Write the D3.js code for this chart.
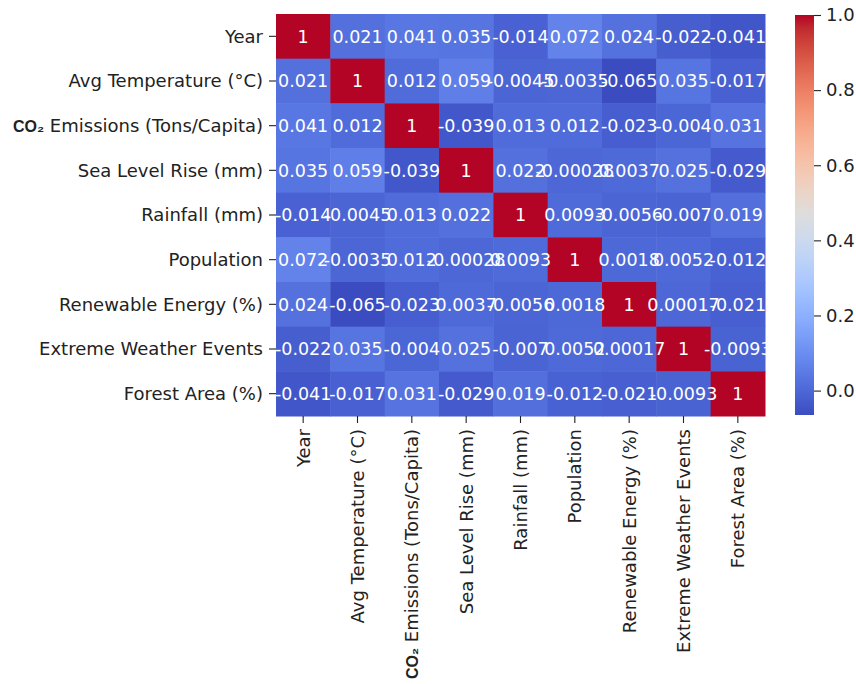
<!DOCTYPE html>
<html lang="en">
<head>
    <meta charset="UTF-8">
    <title>Correlation Heatmap</title>
    <script src="https://cdnjs.cloudflare.com/ajax/libs/d3/7.8.5/d3.min.js"></script>
    <style>
        body { margin: 0; background: #fff; }
        svg { display: block; font-family: "DejaVu Sans", sans-serif; }
    </style>
</head>
<body>
<svg width="856" height="684"></svg>

<script>
    // Variable names (same order on both axes)
    const variables = [
        "Year", "Avg Temperature (°C)", "CO₂ Emissions (Tons/Capita)", "Sea Level Rise (mm)",
        "Rainfall (mm)", "Population", "Renewable Energy (%)", "Extreme Weather Events", "Forest Area (%)"
    ];

    // Correlation matrix, one row per variable
    const corrYear      = [1, 0.021, 0.041, 0.035, -0.014, 0.072, 0.024, -0.022, -0.041];
    const corrTemp      = [0.021, 1, 0.012, 0.059, -0.0045, -0.0035, -0.065, 0.035, -0.017];
    const corrCO2       = [0.041, 0.012, 1, -0.039, 0.013, 0.012, -0.023, -0.004, 0.031];
    const corrSeaLevel  = [0.035, 0.059, -0.039, 1, 0.022, -0.00028, 0.0037, 0.025, -0.029];
    const corrRainfall  = [-0.014, -0.0045, 0.013, 0.022, 1, 0.0093, -0.0056, -0.007, 0.019];
    const corrPop       = [0.072, -0.0035, 0.012, -0.00028, 0.0093, 1, 0.0018, 0.0052, -0.012];
    const corrRenewable = [0.024, -0.065, -0.023, 0.0037, -0.0056, 0.0018, 1, 0.00017, -0.021];
    const corrExtreme   = [-0.022, 0.035, -0.004, 0.025, -0.007, 0.0052, 0.00017, 1, -0.0093];
    const corrForest    = [-0.041, -0.017, 0.031, -0.029, 0.019, -0.012, -0.021, -0.0093, 1];

    const matrix = [corrYear, corrTemp, corrCO2, corrSeaLevel, corrRainfall,
                    corrPop, corrRenewable, corrExtreme, corrForest];

    // Colorbar ticks
    const colorbarTicks = [0.0, 0.2, 0.4, 0.6, 0.8, 1.0];

    // coolwarm colormap stops (Moreland)
    const coolwarm = [
        [59,76,192],[68,90,204],[77,104,215],[87,117,225],[98,130,234],[108,142,241],
        [119,154,247],[130,165,251],[141,176,254],[152,185,255],[163,194,255],[174,201,253],
        [184,208,249],[194,213,244],[204,217,238],[213,219,230],[221,221,221],[229,216,209],
        [236,211,197],[241,204,185],[245,196,173],[247,187,160],[247,177,148],[247,166,135],
        [244,154,123],[241,141,111],[236,127,99],[229,112,88],[222,96,77],[213,80,66],
        [203,62,56],[192,40,47],[180,4,38]
    ].map(c => d3.rgb(c[0], c[1], c[2]).formatHex());

    const cmap = d3.scaleLinear()
        .domain(coolwarm.map((c, i) => i / (coolwarm.length - 1)))
        .range(coolwarm)
        .interpolate(d3.interpolateRgb)
        .clamp(true);

    const cells = [];
    matrix.forEach((row, i) => row.forEach((v, j) => cells.push({ row: i, col: j, value: v })));

    const vmin = d3.min(cells, d => d.value);
    const vmax = d3.max(cells, d => d.value);
    const norm = d3.scaleLinear().domain([vmin, vmax]).range([0, 1]);

    // Layout
    const plotLeft = 276, plotRight = 765, plotTop = 14, plotBottom = 416;
    const svg = d3.select("svg");

    const x = d3.scaleBand().domain(d3.range(variables.length)).range([plotLeft, plotRight]);
    const y = d3.scaleBand().domain(d3.range(variables.length)).range([plotTop, plotBottom]);

    // Python-style ".2g" with a plain hyphen
    const fmt = d3.formatLocale({ decimal: ".", thousands: ",", grouping: [3], currency: ["", ""], minus: "-" }).format(".2~g");

    // Cells
    svg.append("g")
        .selectAll("rect")
        .data(cells)
        .enter()
        .append("rect")
        .attr("x", d => x(d.col))
        .attr("y", d => y(d.row))
        .attr("width", x.bandwidth() + 0.5)
        .attr("height", y.bandwidth() + 0.5)
        .attr("fill", d => cmap(norm(d.value)));

    // Annotations
    svg.append("g")
        .selectAll("text")
        .data(cells)
        .enter()
        .append("text")
        .attr("x", d => x(d.col) + x.bandwidth() / 2)
        .attr("y", d => y(d.row) + y.bandwidth() / 2)
        .attr("dy", "0.36em")
        .attr("text-anchor", "middle")
        .attr("font-size", "17.5px")
        .attr("fill", "#fff")
        .text(d => fmt(d.value));

    // Label writer: renders "CO₂" prefix in a bold sans face like the source
    function writeLabel(sel) {
        sel.each(function (d) {
            const t = d3.select(this);
            const name = variables[d];
            if (name.startsWith("CO₂")) {
                t.append("tspan")
                    .attr("font-family", "'Liberation Sans', Arial, sans-serif")
                    .attr("font-weight", "bold")
                    .attr("font-size", "16px")
                    .text("CO₂");
                t.append("tspan").text(name.slice(3));
            } else {
                t.text(name);
            }
        });
    }

    const tickLen = 7, tickPad = 6;

    // Y axis
    const yAxis = svg.append("g");
    yAxis.selectAll("line")
        .data(d3.range(variables.length))
        .enter()
        .append("line")
        .attr("x1", plotLeft - tickLen)
        .attr("x2", plotLeft)
        .attr("y1", d => y(d) + y.bandwidth() / 2)
        .attr("y2", d => y(d) + y.bandwidth() / 2)
        .attr("stroke", "#222")
        .attr("stroke-width", 1.1);
    yAxis.selectAll("text")
        .data(d3.range(variables.length))
        .enter()
        .append("text")
        .attr("x", plotLeft - tickLen - tickPad)
        .attr("y", d => y(d) + y.bandwidth() / 2)
        .attr("dy", "0.36em")
        .attr("text-anchor", "end")
        .attr("font-size", "18px")
        .attr("fill", "#222")
        .call(writeLabel);

    // X axis (rotated labels)
    const xAxis = svg.append("g");
    xAxis.selectAll("line")
        .data(d3.range(variables.length))
        .enter()
        .append("line")
        .attr("x1", d => x(d) + x.bandwidth() / 2)
        .attr("x2", d => x(d) + x.bandwidth() / 2)
        .attr("y1", plotBottom)
        .attr("y2", plotBottom + tickLen)
        .attr("stroke", "#222")
        .attr("stroke-width", 1.1);
    xAxis.selectAll("text")
        .data(d3.range(variables.length))
        .enter()
        .append("text")
        .attr("transform", d => `translate(${x(d) + x.bandwidth() / 2},${plotBottom + tickLen + tickPad}) rotate(-90)`)
        .attr("dy", "0.36em")
        .attr("text-anchor", "end")
        .attr("font-size", "18px")
        .attr("fill", "#222")
        .call(writeLabel);

    // Colorbar
    const cbLeft = 795, cbWidth = 19;
    const cbScale = d3.scaleLinear().domain([vmin, vmax]).range([plotBottom - 1, plotTop + 1]);

    const grad = svg.append("defs").append("linearGradient")
        .attr("id", "cbGrad")
        .attr("x1", 0).attr("y1", 1).attr("x2", 0).attr("y2", 0);
    grad.selectAll("stop")
        .data(coolwarm)
        .enter()
        .append("stop")
        .attr("offset", (d, i) => i / (coolwarm.length - 1))
        .attr("stop-color", d => d);

    svg.append("rect")
        .attr("x", cbLeft)
        .attr("y", cbScale(vmax))
        .attr("width", cbWidth)
        .attr("height", cbScale(vmin) - cbScale(vmax))
        .attr("fill", "url(#cbGrad)");

    const cbAxis = svg.append("g")
        .attr("transform", `translate(${cbLeft + cbWidth},0)`)
        .call(d3.axisRight(cbScale)
            .tickValues(colorbarTicks)
            .tickFormat(d3.format(".1f"))
            .tickSize(7)
            .tickPadding(5));
    cbAxis.select(".domain").remove();
    cbAxis.selectAll("line").attr("stroke", "#222").attr("stroke-width", 1.1);
    cbAxis.selectAll("text")
        .attr("font-family", "DejaVu Sans, sans-serif")
        .attr("font-size", "18px")
        .attr("fill", "#222");
</script>
</body>
</html>
